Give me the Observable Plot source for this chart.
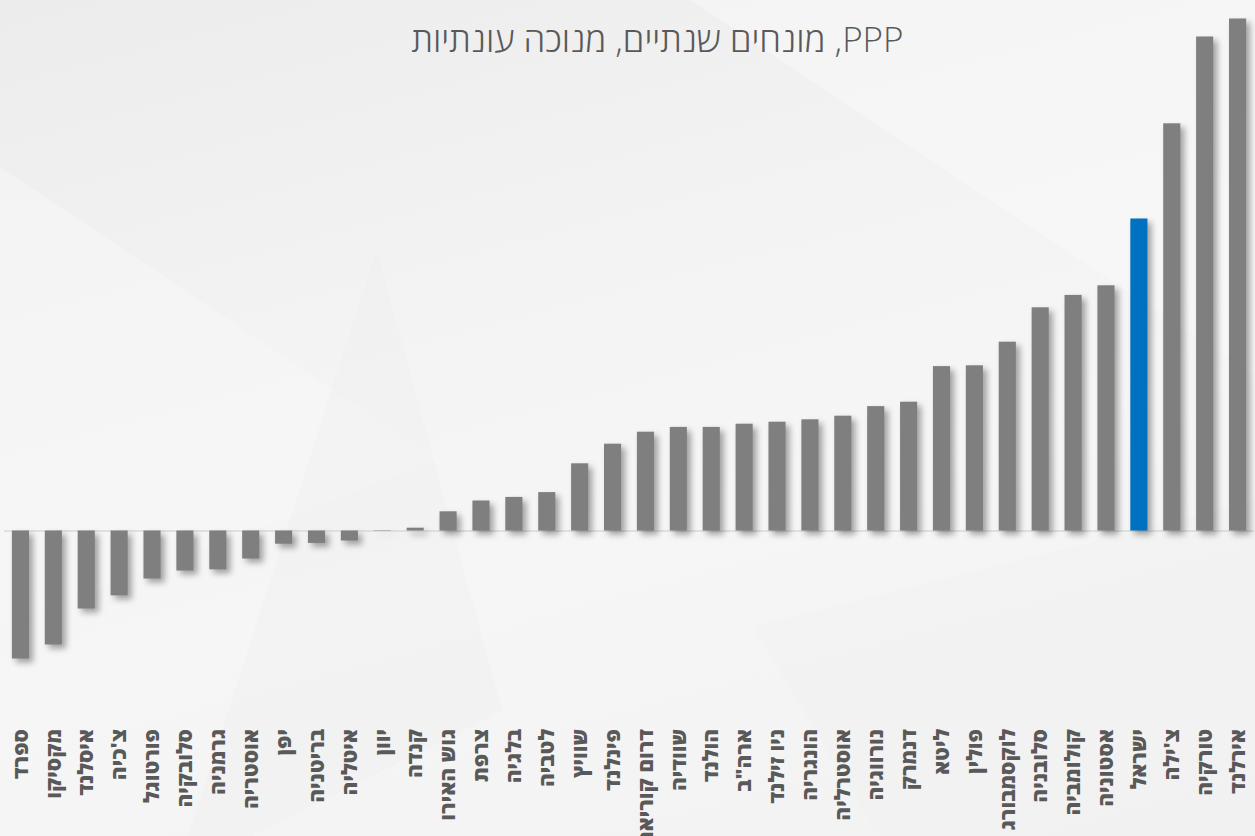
<!DOCTYPE html>
<html lang="he">
<head>
<meta charset="utf-8">
<script src="https://cdn.jsdelivr.net/npm/d3@7"></script>
<script src="https://cdn.jsdelivr.net/npm/@observablehq/plot@0.6"></script>
<style>
  html, body { margin: 0; padding: 0; }
  body {
    width: 1255px; height: 836px; overflow: hidden; position: relative;
    background: linear-gradient(165deg, #ececec 0%, #f3f3f3 35%, #f6f6f6 60%, #f2f2f2 100%);
    font-family: "Open Sans", "DejaVu Sans", sans-serif;
  }
  .poly { position: absolute; inset: 0; }
  .p1 { background: #f8f8f8; clip-path: polygon(0% 20%, 35% 55%, 0% 75%); opacity: .5; }
  .p2 { background: #ececec; clip-path: polygon(30% 30%, 40% 85%, 20% 100%, 15% 100%); opacity: .25; }
  .p3 { background: #f9f9f9; clip-path: polygon(55% 0%, 100% 0%, 100% 45%); opacity: .5; }
  .p4 { background: #f0f0f0; clip-path: polygon(60% 75%, 100% 60%, 100% 100%, 70% 100%); opacity: .4; }
  #subtitle {
    position: absolute; top: 15px; left: 30px; width: 1255px; text-align: center;
    font-size: 35px; font-weight: 300; color: #595959; direction: rtl;
  }
  #chart { position: absolute; top: 0; left: 0; }
  #chart g[aria-label="bar"] { filter: drop-shadow(4px 4px 3px rgba(0,0,0,0.35)); }
</style>
</head>
<body>
<div class="poly p1"></div>
<div class="poly p2"></div>
<div class="poly p3"></div>
<div class="poly p4"></div>
<div id="chart"></div>
<div id="subtitle">PPP, מונחים שנתיים, מנוכה עונתיות</div>
<script>
const countries = ["ספרד","מקסיקו","איסלנד","צ'כיה","פורטוגל","סלובקיה","גרמניה","אוסטריה","יפן","בריטניה","איטליה","יוון","קנדה","גוש האירו","צרפת","בלגיה","לטביה","שוויץ","פינלנד","דרום קוריאה","שוודיה","הולנד","ארה\"ב","ניו זילנד","הונגריה","אוסטרליה","נורווגיה","דנמרק","ליטא","פולין","לוקסמבורג","סלובניה","קולומביה","אסטוניה","ישראל","צ'ילה","טורקיה","אירלנד"];
const values = [-3.2,-2.85,-1.95,-1.62,-1.2,-1.0,-0.97,-0.7,-0.33,-0.31,-0.25,-0.01,0.07,0.48,0.75,0.84,0.96,1.68,2.17,2.47,2.59,2.59,2.67,2.72,2.78,2.87,3.11,3.22,4.11,4.13,4.72,5.58,5.89,6.13,7.8,10.18,12.35,12.8];
const highlight = "ישראל";

const data = countries.map((c, i) => ({country: c, value: values[i]}));

const chart = Plot.plot({
  width: 1255,
  height: 836,
  marginLeft: 4,
  marginRight: 1,
  marginTop: 10.5,
  marginBottom: 145.5,
  style: {background: "transparent", fontFamily: "'Open Sans', 'DejaVu Sans', sans-serif", fontSize: "21px", fontWeight: "800", color: "#595959"},
  x: {domain: countries, paddingInner: 0.48, paddingOuter: 0.24, tickRotate: -90, tickSize: 0, tickPadding: 38, label: null},
  y: {domain: [-4, 13], axis: null},
  marks: [
    Plot.ruleY([0], {stroke: "#d9d9d9", strokeWidth: 1.5}),
    Plot.barY(data, {x: "country", y: "value", fill: d => d.country === highlight ? "#0070c0" : "#7f7f7f"})
  ]
});
document.getElementById("chart").appendChild(chart);
</script>
</body>
</html>
